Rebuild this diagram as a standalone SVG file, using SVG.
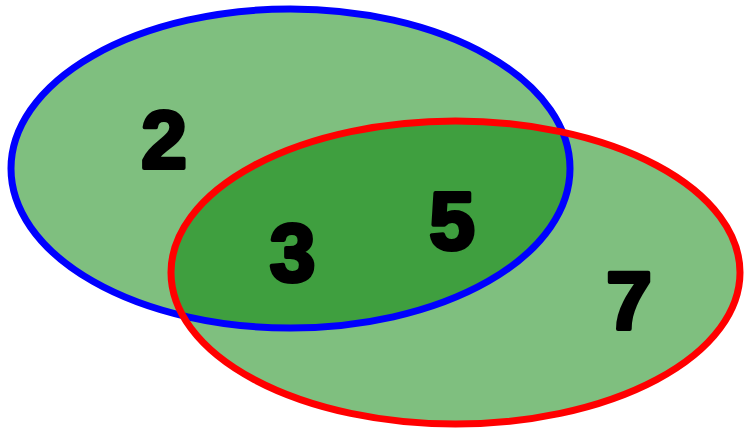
<svg xmlns="http://www.w3.org/2000/svg" width="745" height="429" viewBox="0 0 745 429">
<style>
.fill{fill:#008000;fill-opacity:0.5;stroke:none}
.edge{fill:none;stroke-width:7}
.num{font-family:"Liberation Sans",Arial,sans-serif;font-weight:bold;font-size:82px;fill:#000;stroke:#000;stroke-width:4;stroke-linejoin:round;text-anchor:middle}
</style>
<rect width="745" height="429" fill="#fff"/>
<g id="setA">
<ellipse class="fill" cx="290.5" cy="168.5" rx="279.5" ry="159.5"/>
</g>
<g id="setB">
<ellipse class="fill" cx="455.5" cy="272.5" rx="284.5" ry="151.5"/>
</g>
<g id="outlines">
<ellipse class="edge" stroke="#0000ff" cx="290.5" cy="168.5" rx="279.5" ry="159.5"/>
<ellipse class="edge" stroke="#ff0000" cx="455.5" cy="272.5" rx="284.5" ry="151.5"/>
</g>
<g id="labels">
<text class="num" x="164" y="168">2</text>
<text class="num" x="292.5" y="281">3</text>
<text class="num" x="452" y="248.5">5</text>
<text class="num" x="629" y="329">7</text>
</g>
</svg>
